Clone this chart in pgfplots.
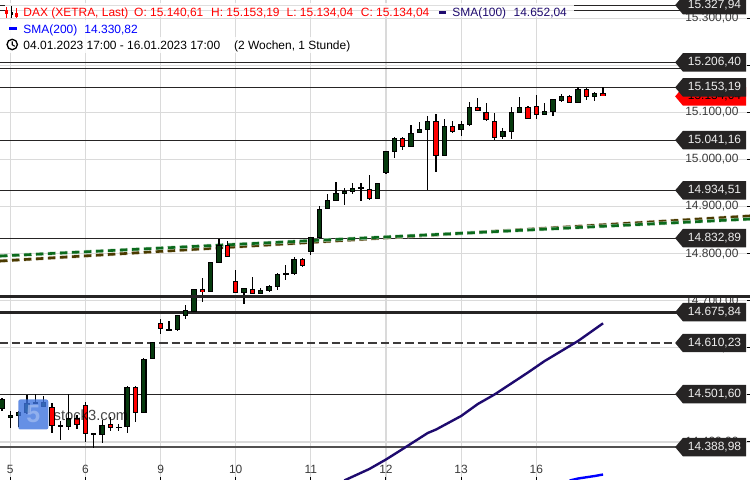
\documentclass[border=0pt]{standalone}
\usepackage{fontspec}
\setmainfont{Liberation Sans}
\usepackage{pgfplots}
\usepackage{pgfplotstable}
\pgfplotsset{compat=1.18}
\usetikzlibrary{shapes.symbols}
\definecolor{candG}{HTML}{063A0E}
\definecolor{candR}{HTML}{FF0000}
\definecolor{gridc}{HTML}{DADADA}
\definecolor{lvl}{HTML}{262424}
\definecolor{sma1}{HTML}{1E0A6E}
\definecolor{labc}{HTML}{3A3A3A}
\definecolor{trG}{HTML}{0B6A1C}
\definecolor{trB}{HTML}{4A3A00}
\definecolor{logoB}{HTML}{3F74DE}
\definecolor{logoL}{HTML}{A4BEF2}
\definecolor{tagtext}{HTML}{EEEEEE}

% columns: bar, high, body top, body bottom, low
\pgfplotstableread{
x h t b l
-1 14493 14491 14471 14466
0 14466 14457.2 14451.5 14430.3
1 14466 14463 14455.7 14432.4
2 14499.7 14482.1 14462.1 14459.4
3 14501.9 14484.2 14480.6 14480.6
4 14498.2 14484.2 14474.9 14474.9
6 14445.1 14436 14432.4 14404.1
7 14501.2 14450.2 14432.4 14425.4
10 14419 14417.5 14416.2 14387.8
11 14446.6 14435.4 14415.4 14398.4
13 14438.1 14432.4 14430.3 14423.9
14 14518.9 14516.1 14432.4 14419.6
16 14579 14575.6 14460.9 14460.9
17 14613 14611.7 14575.6 14575.6
19 14656.9 14639.9 14637.8 14636.3
20 14669.7 14669.7 14637.8 14635.7
21 14690.9 14680.3 14668.2 14661.2
22 14724.3 14724.3 14676.7 14676.7
24 14781.6 14781.6 14719.2 14719.2
25 14831.1 14818.4 14780.8 14780.8
28 14726.4 14726.4 14717.1 14693.1
30 14726.4 14722.8 14714.9 14714.3
31 14733.4 14731.3 14721.3 14719.2
32 14758.3 14756.8 14729.8 14722.8
33 14775.9 14758.9 14755.3 14744
34 14792.3 14788.7 14756.8 14754.7
36 14834.8 14834.8 14804.2 14797.2
37 14901.3 14894.9 14832.6 14832.6
38 14926.7 14914 14894.2 14894.2
39 14952.9 14928.2 14912.5 14912.5
40 14938.9 14933.8 14927.4 14903.4
41 14949.5 14938.9 14931.6 14926.7
42 14950.8 14941 14938 14911.9
44 14949.5 14949.5 14916.8 14916.8
45 15017.5 15017.5 14972 14969.2
46 15048.5 15045.1 15016.6 15003.9
48 15073.3 15055.7 15027.2 15027.2
49 15079.7 15064.8 15055.7 15055.7
50 15092.5 15081.2 15062.7 14935.2
52 15086.1 15070.6 15008.1 15008.1
54 15081.8 15074.8 15062.7 15050.6
55 15121.6 15112.2 15073.3 15071.9
59 15066.3 15060 15048.5 15043.6
60 15110.9 15100.3 15059.1 15043.6
61 15132.2 15110.9 15099.5 15098.2
64 15119.4 15102.4 15095.2 15095.2
65 15127.9 15127.9 15101.6 15093.1
66 15138.6 15134.3 15125 15121.6
68 15153.4 15149.2 15120.7 15119.4
70 15143.4 15140.7 15132.2 15125
}\upT
\pgfplotstableread{
x h t b l
5 14482.1 14474.9 14434.5 14419.6
8 14457.2 14450.2 14436.6 14427.5
9 14484.2 14478.5 14416.2 14399.2
12 14453 14437.5 14430.3 14423.2
15 14518.9 14516.1 14460.9 14442.4
18 14661.2 14652 14639.3 14629.3
23 14747.6 14724.3 14719.2 14697.9
26 14826.9 14817.8 14793.5 14793.5
27 14765.3 14742.6 14715.8 14715.8
29 14750.4 14724.3 14714.9 14714.9
35 14790.1 14788.7 14774.4 14772.3
43 14967.1 14938 14916.8 14914
47 15048.5 15045.1 15027.2 15020.2
51 15096.7 15081.2 15008.1 14974.1
53 15081.8 15070.6 15059.1 15057
56 15130.1 15110.9 15103.7 15103.7
57 15119.4 15101.6 15084.6 15082.5
58 15098.2 15082.5 15046.4 15041.5
62 15113.1 15110.9 15086.7 15085.5
63 15137.1 15113.1 15095.2 15086.7
67 15137.1 15134.3 15120.7 15119.4
69 15151.9 15149.2 15132.2 15126.4
71 15153.19 15140.61 15134.04 15134.04
}\downT
\pgfplotstableread{
x y lab
84.35 15327.94 15.327,94
84.35 15206.40 15.206,40
84.35 15153.19 15.153,19
84.35 15041.16 15.041,16
84.35 14934.51 14.934,51
84.35 14832.89 14.832,89
84.35 14675.84 14.675,84
84.35 14610.23 14.610,23
84.35 14501.60 14.501,60
84.35 14388.98 14.388,98
}\tagT
\pgfplotstableread{
x y lab
84.35 15134.04 15.134,04
}\tagR

\pgfplotsset{
  base/.style={
    scale only axis, width=750bp, height=480bp, at={(0,0)}, anchor=south west,
    xmin=-1.234, xmax=88.6, ymin=14319.14, ymax=15338.9,
  },
  wick/.style={draw=none, forget plot,
    error bars/.cd, y dir=both, y explicit, error mark=none,
    error bar style={draw=black, solid, line width=1.2bp}},
  outer/.style={draw=none, forget plot,
    error bars/.cd, y dir=both, y explicit, error mark=none,
    error bar style={draw=black, solid, line width=5.4bp}},
  inner/.style={draw=none, forget plot,
    error bars/.cd, y dir=both, y explicit, error mark=none,
    error bar style={draw=#1, solid, line width=3.2bp}},
  level/.style={forget plot, lvl, line width=1.2bp},
  tagstyle/.style 2 args={forget plot, draw=none, mark=none,
    point meta=explicit symbolic, nodes near coords,
    every node near coord/.style={anchor=center, shape=signal, signal to=west,
      signal pointer angle=100, fill=#1, text=#2, draw=none,
      minimum width=71bp, minimum height=18.4bp, inner sep=0pt, outer sep=0pt,
      font=\fontsize{12}{14}\selectfont}},
}
\newcommand{\candles}[2]{%
  \addplot[wick] table[x=x, y=t, y error plus expr=\thisrow{h}-\thisrow{t}, y error minus expr=\thisrow{t}-\thisrow{l}] {#1};
  \addplot[outer] table[x=x, y expr=(\thisrow{t}+\thisrow{b})/2, y error plus expr={max((\thisrow{t}-\thisrow{b})/2,1.2)}, y error minus expr={max((\thisrow{t}-\thisrow{b})/2,1.2)}] {#1};
  \addplot[inner=#2] table[x=x, y expr=(\thisrow{t}+\thisrow{b})/2, y error plus expr={max((\thisrow{t}-\thisrow{b})/2-2.1,0)}, y error minus expr={max((\thisrow{t}-\thisrow{b})/2-2.1,0)}] {#1};
}
\begin{document}
\begin{tikzpicture}
\useasboundingbox (0,0) rectangle (750bp,480bp);
\begin{axis}[base,
  axis line style={draw=none},
  xtick={0,9,18,27,36,45,54,63},
  xticklabels={5,6,9,10,11,12,13,16},
  ytick={14400,14500,14600,14700,14800,14900,15000,15100,15200,15300},
  yticklabels={{14.400,00},{14.500,00},{14.600,00},{14.700,00},{14.800,00},{14.900,00},{15.000,00},{15.100,00},{15.200,00},{15.300,00}},
  yticklabel pos=right,
  tick align=inside, major tick length=3bp,
  tick style={black, line width=1bp},
  xtick pos=bottom, ytick pos=right,
  grid=major,
  major grid style={gridc, line width=1.2bp},
  xticklabel style={font=\fontsize{12}{14}\selectfont, text=labc, anchor=center, yshift=10.7bp},
  yticklabel style={font=\fontsize{12}{14}\selectfont, text=labc, anchor=east, xshift=-8bp},
]
% level lines
\addplot[level] coordinates {(-1.3,15327.94)(82,15327.94)};
\addplot[level] coordinates {(-1.3,15317)(82,15317)};
\addplot[level] coordinates {(-1.3,15206.40)(82,15206.40)};
\addplot[level] coordinates {(-1.3,15193.7)(82,15193.7)};
\addplot[level] coordinates {(-1.3,15153.19)(82,15153.19)};
\addplot[level] coordinates {(-1.3,15041.16)(82,15041.16)};
\addplot[level] coordinates {(-1.3,14934.51)(82,14934.51)};
\addplot[level] coordinates {(-1.3,14832.89)(82,14832.89)};
\addplot[level, line width=3bp] coordinates {(-1.3,14675.84)(82,14675.84)};
\addplot[level, line width=2.4bp, dash pattern=on 8.3bp off 4bp, color=lvl!90] coordinates {(-1.3,14610.23)(82,14610.23)};
\addplot[level] coordinates {(-1.3,14501.60)(82,14501.60)};
\addplot[level, line width=2.6bp, color=lvl!80] coordinates {(-1.3,14388.98)(82,14388.98)};
% trend lines
\addplot[forget plot, trB!25, line width=3.6bp, dash pattern=on 7.5bp off 4.5bp] coordinates {(-1.234,14784.4)(88.6,14880)};
\addplot[forget plot, trB, line width=2.6bp, dash pattern=on 7.5bp off 4.5bp] coordinates {(-1.234,14784.4)(88.6,14880)};
\addplot[forget plot, trG!30, line width=3.6bp, dash pattern=on 7.5bp off 4.5bp] coordinates {(-1.234,14795)(88.6,14873.6)};
\addplot[forget plot, trG, line width=2.6bp, dash pattern=on 7.5bp off 4.5bp] coordinates {(-1.234,14795)(88.6,14873.6)};
% candles
\candles{\upT}{candG}
\candles{\downT}{candR}
% moving averages
\addplot[forget plot, sma1, line width=2.4bp, line join=round] coordinates {
(40,14318.1)(43,14342.5)(45,14362.7)(47,14385)(50,14419)(51,14426.4)(54,14455.1)(56,14480.6)(58,14500.8)(59,14512.5)(61,14535.8)(62,14547.5)(64,14571.9)(68,14614.4)(71,14652.04)};
\addplot[forget plot, blue, line width=2.4bp, line join=round] coordinates {
(67,14318)(68,14322.3)(70,14327.6)(71,14330.82)};
\end{axis}

\begin{scope}[x=1bp,y=-1bp,yshift=480bp]
% watermark
\fill[logoB,opacity=0.8,rounded corners=2bp] (18.3,399.5) rectangle (48.3,429.5);
\node[text=logoL, opacity=0.7, font=\bfseries\fontsize{25}{28}\selectfont] at (33.3,414.5) {5};
\node[text=black, opacity=0.72, anchor=west, inner sep=0pt, font=\fontsize{14.8}{17}\selectfont] at (53.5,415) {stock3.com};
% legend backgrounds
\fill[white,opacity=0.85] (5,3) rectangle (574,17.5);
\fill[white,opacity=0.85] (5,20) rectangle (142,37);
\fill[white,opacity=0.85] (5,37) rectangle (356,53);
\tikzset{lg/.style={anchor=base west, inner sep=0pt, font=\fontsize{12}{14}\selectfont}}
\node[lg, text=red] at (23.3,17) {DAX (XETRA, Last)};
\node[lg, text=red] at (134,17) {O: 15.140,61};
\node[lg, text=red] at (211,17) {H: 15.153,19};
\node[lg, text=red] at (286.5,17) {L: 15.134,04};
\node[lg, text=red] at (360.7,17) {C: 15.134,04};
\node[lg, text=sma1] at (452.2,17) {SMA(100)};
\node[lg, text=sma1] at (513.5,17) {14.652,04};
\node[lg, text=blue] at (23.3,33.5) {SMA(200)};
\node[lg, text=blue] at (84.3,33.5) {14.330,82};
\node[lg, text=black] at (23.3,49.5) {04.01.2023 17:00 - 16.01.2023 17:00};
\node[lg, text=black] at (234,49.5) {(2 Wochen, 1 Stunde)};
\fill[sma1] (438.5,11) rectangle (446,14);
\fill[blue] (9.3,27.5) rectangle (17,30.5);
% candle icon
\draw[red, line width=1bp] (6.7,7) -- (6.7,18);
\draw[black, line width=1bp] (11.7,6.5) -- (11.7,18);
\draw[red, line width=1bp] (16.2,8) -- (16.2,18);
\fill[red] (5.5,10) rectangle (8,14);
\fill[black] (10.5,12) rectangle (13,15);
\draw[red, line width=0.8bp] (15,13) rectangle (17.5,16);
% clock icon
\draw[black, line width=1.3bp] (12.2,44.5) circle (5.2);
\draw[black, line width=1.1bp] (12.2,41.5) -- (12.2,44.8) -- (14.8,46.2);
\end{scope}

\begin{axis}[base, hide axis]
\addplot[level, line width=3bp] coordinates {(-1.3,14709.4)(89,14709.4)};
\addplot[tagstyle={red}{black}] table[x=x, y=y, meta=lab] {\tagR};
\addplot[tagstyle={lvl}{tagtext}] table[x=x, y=y, meta=lab] {\tagT};
\end{axis}
\end{tikzpicture}
\end{document}
